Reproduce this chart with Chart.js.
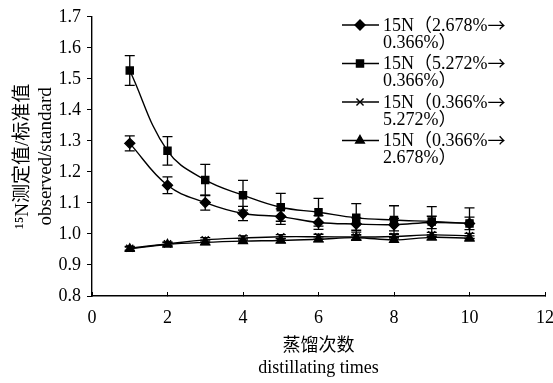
<!DOCTYPE html>
<html>
<head>
<meta charset="utf-8">
<script src="https://cdn.jsdelivr.net/npm/chart.js@4"></script>
<style>
  html, body { margin: 0; padding: 0; background: #fff; overflow: hidden; }
  #wrap { position: relative; width: 560px; height: 383px; }
</style>
</head>
<body>
<div id="wrap"><canvas id="chart"></canvas></div>
<script>
// distillation round
var runs = [1, 2, 3, 4, 5, 6, 7, 8, 9, 10];

// 15N observed/standard ratios
var high2678 = [1.292, 1.157, 1.101, 1.066, 1.056, 1.037, 1.032, 1.030, 1.037, 1.034];
var high2678Err = [0.024, 0.027, 0.024, 0.023, 0.025, 0.022, 0.020, 0.020, 0.020, 0.020];
var high5272 = [1.527, 1.268, 1.174, 1.125, 1.086, 1.070, 1.052, 1.045, 1.040, 1.034];
var high5272Err = [0.048, 0.046, 0.050, 0.048, 0.045, 0.045, 0.046, 0.046, 0.048, 0.050];
var low5272 = [0.954, 0.968, 0.981, 0.987, 0.991, 0.991, 0.990, 0.992, 0.997, 0.994];
var low5272Err = [0.006, 0.006, 0.007, 0.007, 0.007, 0.008, 0.008, 0.008, 0.008, 0.008];
var low2678 = [0.952, 0.966, 0.973, 0.977, 0.979, 0.983, 0.988, 0.981, 0.989, 0.986];
var low2678Err = [0.006, 0.006, 0.007, 0.007, 0.007, 0.008, 0.008, 0.008, 0.008, 0.008];

// legend text: first line (before the arrow), second line
var legendLabels = [
  ["15N（2.678%", "0.366%）"],
  ["15N（5.272%", "0.366%）"],
  ["15N（0.366%", "5.272%）"],
  ["15N（0.366%", "2.678%）"]
];

var serif = "'Liberation Serif', 'Times New Roman', 'Noto Sans CJK SC', serif";

function toXY(ys) {
  return runs.map(function (x, i) { return { x: x, y: ys[i] }; });
}

function series(label, ys, errs, style) {
  return {
    label: label,
    data: toXY(ys),
    errors: errs,
    borderColor: "#000",
    backgroundColor: "#000",
    borderWidth: 1.4,
    pointStyle: style,
    pointRadius: 5,
    pointBorderWidth: 1.4,
    tension: 0.4,
    fill: false
  };
}

// vertical error bars with caps
var errorBars = {
  id: "errorBars",
  afterDatasetsDraw: function (chart) {
    var ctx = chart.ctx;
    var yScale = chart.scales.y;
    var xScale = chart.scales.x;
    ctx.save();
    ctx.strokeStyle = "#000";
    ctx.lineWidth = 1.3;
    chart.data.datasets.forEach(function (ds) {
      ds.data.forEach(function (p, i) {
        var e = ds.errors[i];
        var px = xScale.getPixelForValue(p.x);
        var top = yScale.getPixelForValue(p.y + e);
        var bot = yScale.getPixelForValue(p.y - e);
        ctx.beginPath();
        ctx.moveTo(px, top); ctx.lineTo(px, bot);
        ctx.moveTo(px - 5, top); ctx.lineTo(px + 5, top);
        ctx.moveTo(px - 5, bot); ctx.lineTo(px + 5, bot);
        ctx.stroke();
      });
    });
    ctx.restore();
  }
};

// two-line legend entries in the upper right
var sideLegend = {
  id: "sideLegend",
  afterDraw: function (chart) {
    var ctx = chart.ctx;
    var x0 = 342, y0 = 25, step = 38.5;
    ctx.save();
    ctx.fillStyle = "#000";
    ctx.strokeStyle = "#000";
    ctx.textBaseline = "middle";
    chart.data.datasets.forEach(function (ds, i) {
      var y = y0 + i * step;
      ctx.lineWidth = 1.4;
      ctx.beginPath();
      ctx.moveTo(x0, y); ctx.lineTo(x0 + 37, y);
      ctx.stroke();
      Chart.helpers.drawPoint(ctx, {
        pointStyle: ds.pointStyle, radius: 5, rotation: 0, borderWidth: 1.4
      }, x0 + 18, y);
      if (ds.pointStyle !== "crossRot") ctx.fill();
      ctx.font = "18px " + serif;
      ctx.fillText(legendLabels[i][0], x0 + 41, y + 1);
      var w = ctx.measureText(legendLabels[i][0]).width;
      ctx.fillText(legendLabels[i][1], x0 + 41, y + 18);
      // the arrow from a CJK font is longer, like the original
      ctx.font = "18px 'Noto Sans CJK SC'";
      ctx.fillText("→", x0 + 41 + w, y);
    });
    ctx.restore();
  }
};

new Chart(document.getElementById("chart"), {
  type: "line",
  data: {
    datasets: [
      series(legendLabels[0].join(""), high2678, high2678Err, "rectRot"),
      series(legendLabels[1].join(""), high5272, high5272Err, "rect"),
      series(legendLabels[2].join(""), low5272, low5272Err, "crossRot"),
      series(legendLabels[3].join(""), low2678, low2678Err, "triangle")
    ]
  },
  options: {
    responsive: true,
    maintainAspectRatio: false,
    animation: false,
    layout: { padding: { top: 15, left: 2, right: 0, bottom: 2 } },
    plugins: {
      legend: { display: false },
      tooltip: { enabled: false }
    },
    scales: {
      x: {
        type: "linear",
        min: 0,
        max: 12,
        afterFit: function (s) {
          s.height = 383 - 2 - 296;
          // let the "12" run off the right edge like the original
          s.paddingLeft = 0;
          s.paddingRight = 15;
        },
        ticks: {
          stepSize: 2,
          maxRotation: 0,
          minRotation: 0,
          color: "#000",
          font: { family: serif, size: 18 },
          padding: 15
        },
        // ticks point up into the plot
        grid: { drawOnChartArea: false, color: "#000", tickLength: -4 },
        border: { color: "#000", width: 1.4 },
        title: {
          display: true,
          text: ["蒸馏次数", "distillating times"],
          color: "#000",
          font: { family: serif, size: 18 },
          padding: { top: 0, bottom: 2 }
        }
      },
      y: {
        min: 0.8,
        max: 1.7,
        afterFit: function (s) { s.width = 92 - 2; },
        ticks: {
          stepSize: 0.1,
          color: "#000",
          font: { family: serif, size: 18 },
          padding: 6,
          callback: function (v) { return v.toFixed(1); }
        },
        grid: { drawOnChartArea: false, color: "#000", tickLength: 5 },
        border: { color: "#000", width: 1.4 },
        title: {
          display: true,
          text: ["¹⁵N测定值/标准值", "observed/standard"],
          color: "#000",
          font: { family: serif, size: 19 },
          padding: { top: 10, bottom: 0 }
        }
      }
    }
  },
  plugins: [errorBars, sideLegend]
});
</script>
</body>
</html>
